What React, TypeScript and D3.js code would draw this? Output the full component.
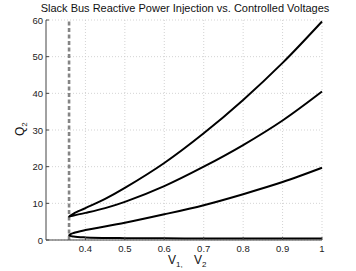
import React from "react";
import * as d3 from "d3";

const xTicks = [0.4, 0.5, 0.6, 0.7, 0.8, 0.9, 1];
const yTicks = [0, 10, 20, 30, 40, 50, 60];
const title = "Slack Bus Reactive Power Injection vs. Controlled Voltages";
const vLimit = 0.3585;

// upper nose: top branch (from V=1 down to nose) then middle branch back to V=1
const upperV = [1.0, 0.9, 0.8, 0.7, 0.6, 0.5, 0.45, 0.4, 0.37, 0.3585, 0.37, 0.4, 0.45, 0.5, 0.6, 0.7, 0.8, 0.9, 1.0];
const upperQ = [59.6, 48.3, 38.2, 29.1, 21.0, 14.2, 11.2, 8.7, 7.2, 6.4, 6.7, 7.4, 8.7, 10.4, 14.7, 20.0, 25.9, 32.6, 40.5];
// lower nose: third branch then bottom branch
const lowerV = [1.0, 0.9, 0.8, 0.7, 0.6, 0.5, 0.4, 0.37, 0.3585, 0.37, 0.4, 0.5, 0.6, 0.7, 0.8, 0.9, 1.0];
const lowerQ = [19.7, 15.8, 12.5, 9.5, 7.0, 4.7, 2.7, 1.9, 1.3, 0.95, 0.7, 0.5, 0.45, 0.42, 0.4, 0.4, 0.4];

const W = 356, H = 271;
const L = 46, R = 322, T = 20, B = 240;

export default function App() {
  const x = d3.scaleLinear().domain([0.3, 1]).range([L, R]);
  const y = d3.scaleLinear().domain([0, 60]).range([B, T]);
  const line = d3.line<[number, number]>()
    .x(d => x(d[0])).y(d => y(d[1]))
    .curve(d3.curveCatmullRom.alpha(0.5));
  const upper = line(upperV.map((v, i) => [v, upperQ[i]]) as [number, number][]) || "";
  const lower = line(lowerV.map((v, i) => [v, lowerQ[i]]) as [number, number][]) || "";
  const font = "'Liberation Sans', Arial, Helvetica, sans-serif";
  return (
    <svg width={W} height={H} style={{ position: "absolute", left: 0, top: 0, background: "#fff" }} fontFamily={font}>
      <rect x={0} y={0} width={W} height={H} fill="#fff" />
      {xTicks.map(t => (
        <line key={"gx" + t} x1={x(t)} x2={x(t)} y1={B} y2={T} stroke="#c8c8c8" strokeWidth={0.8} strokeDasharray="1,2" />
      ))}
      {yTicks.map(t => (
        <line key={"gy" + t} x1={L} x2={R} y1={y(t)} y2={y(t)} stroke="#c8c8c8" strokeWidth={0.8} strokeDasharray="1,2" />
      ))}
      <line x1={x(vLimit)} x2={x(vLimit)} y1={y(0)} y2={y(60)} stroke="#858585" strokeWidth={2.6} strokeDasharray="4,2.5" />
      <path d={upper} fill="none" stroke="#000" strokeWidth={2} />
      <path d={lower} fill="none" stroke="#000" strokeWidth={2} />
      <line x1={L} x2={L} y1={T} y2={B} stroke="#444" strokeWidth={1} />
      <line x1={L} x2={R} y1={B} y2={B} stroke="#444" strokeWidth={1} />
      {yTicks.map(t => (
        <g key={"ty" + t}>
          <line x1={L} x2={L + 3} y1={y(t)} y2={y(t)} stroke="#444" strokeWidth={1} />
          <text x={L - 3} y={y(t) + 3.5} fontSize={9.5} textAnchor="end" fill="#222">{t}</text>
        </g>
      ))}
      {xTicks.map(t => (
        <g key={"tx" + t}>
          <line x1={x(t)} x2={x(t)} y1={B} y2={B - 3} stroke="#444" strokeWidth={1} />
          <text x={x(t)} y={B + 12} fontSize={9.5} textAnchor="middle" fill="#222">{t}</text>
        </g>
      ))}
      <text x={185} y={12} fontSize={11} textAnchor="middle" fill="#111">{title}</text>
      <text x={168} y={264} fontSize={12} fill="#111">
        V<tspan fontSize={8} dy={3}>1,</tspan><tspan x={194} dy={-3}>V</tspan><tspan fontSize={8} dy={3}>2</tspan>
      </text>
      <text transform="translate(24,136) rotate(-90)" fontSize={12} fill="#111">
        Q<tspan fontSize={8} dy={3}>2</tspan>
      </text>
    </svg>
  );
}
